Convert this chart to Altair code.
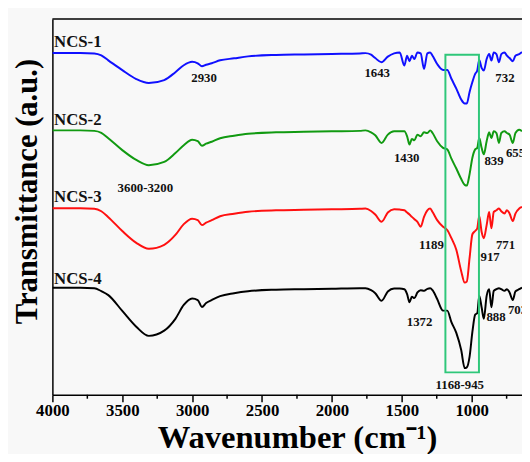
import altair as alt
import pandas as pd

SERIF = "Liberation Serif"

# wavenumber grid (cm-1)
wn = [4000, 3800, 3700, 3650, 3600, 3500, 3400, 3310, 3200, 3120, 3060, 3000, 2960, 2930,
      2900, 2860, 2800, 2700, 2600, 2400, 2200, 2000, 1800,
      1760, 1720, 1690, 1645, 1600, 1555, 1515, 1482, 1462, 1445,
      1428, 1410, 1388, 1365, 1341, 1317, 1297, 1280, 1247, 1205,
      1175, 1145, 1110, 1075, 1050, 1035, 1015, 995, 975, 960,
      946, 929, 913, 893, 875, 859, 842, 823, 805, 788,
      765, 748, 729, 706, 687, 660, 640]

# transmittance (a.u., stacked with offsets)
ncs1 = [346.5, 346.5, 346, 344, 339, 329, 320, 316, 319, 327, 334, 337.5, 336, 333,
        334.5, 336, 339, 341, 343, 344.5, 345, 345.5, 346,
        346.3, 344.7, 341.3, 337, 342.7, 346, 347, 333.7, 343.7, 338,
        343.7, 340.3, 347, 346, 330.3, 346, 347, 343.7, 335.3, 329.3,
        329.3, 320.3, 310.3, 299.3, 295.3, 295.3, 307, 317, 325.3, 328.7,
        339.3, 331.3, 328.7, 340.3, 345.3, 338.7, 347, 345.3, 337, 345.3,
        347, 343.7, 341.3, 338, 343.7, 345.3, 347.3]
ncs2 = [268, 268, 267.5, 265.5, 260, 248, 238, 232.7, 236, 245, 253, 258.5, 257, 252.5,
        254.5, 256.5, 260, 262.5, 264.5, 266, 266.5, 267, 267.5,
        268, 266, 263, 255.3, 263.7, 267, 267, 267, 262, 253.7,
        259.3, 258, 263.7, 262, 266, 265.3, 268, 265.3, 257, 250.3,
        248.7, 239.3, 229.3, 218.7, 212.7, 212, 223.7, 240.3, 248.7, 250.3,
        260.3, 250.3, 243.7, 257, 266, 260.3, 267, 265.3, 255.3, 265.3,
        267, 265.3, 263.7, 255.3, 265.3, 268.7, 267]
ncs3 = [189, 189, 188.5, 186, 180, 166, 154, 148, 152, 162, 173, 178.5, 177, 172,
        174.5, 177, 181, 183.5, 185.5, 187, 187.5, 188, 188.5,
        188.7, 186.3, 182.7, 175.3, 184.7, 188, 187.7, 187, 184.7, 182.7,
        180.3, 178, 175.3, 170.3, 180.3, 187, 188.7, 185.3, 177, 170.3,
        167, 158.7, 147, 125.3, 113.7, 114.7, 138.7, 162.7, 166, 168.7,
        181.3, 165.3, 158.7, 172, 185.3, 168.7, 185.3, 187, 188.7, 186,
        183.7, 187, 183.7, 176, 183.7, 188.7, 190.3]
ncs4 = [108.5, 108.5, 108, 105, 101, 85, 69, 59.7, 65, 77, 91, 97.5, 96, 89,
        93, 96, 100, 103, 105, 106.5, 107, 107.5, 108,
        108, 106, 103, 95.3, 104.7, 107.7, 107.7, 107, 102, 93.7,
        99.3, 98, 103.7, 106, 105.3, 107.3, 108, 106, 97, 85.3,
        85.3, 73.7, 62.7, 45.3, 27, 27.7, 38.7, 63.7, 81.3, 82.7,
        100.3, 88.7, 77, 100.3, 107, 88.7, 105.3, 107, 108, 107,
        105.3, 107, 103.7, 96, 104.7, 107, 108.7]

series_names = ["NCS-1", "NCS-2", "NCS-3", "NCS-4"]
series_colors = ["#1010ff", "#119a11", "#ff1010", "#000000"]

# sample labels
name_wn = [3988, 3988, 3988, 3988]
name_val = [357, 278, 200.3, 117.7]

# peak annotations (centered)
peak_text = ["2930", "1643", "732", "1430", "839", "3600-3200", "1189", "917", "771",
             "1372", "888", "1168-945"]
peak_wn = [2915, 1676, 762, 1465, 840, 3335, 1288, 868, 758, 1373, 826, 1085]
peak_val = [321, 326.3, 321, 240.3, 237, 209.7, 151.3, 139.7, 152, 73.7, 78.7, 10.3]

# peak annotations (left aligned, cut at the edge)
edge_text = ["655", "703"]
edge_wn = [755, 741]
edge_val = [245.3, 86]

# highlighted band
box_wn = [1188, 948]
box_val = [344.7, 22.7]

major_ticks = [4000, 3500, 3000, 2500, 2000, 1500, 1000]
minor_ticks = [3750, 3250, 2750, 2250, 1750, 1250, 750]

W, H = 476, 381

rows = []
for name, vals in zip(series_names, [ncs1, ncs2, ncs3, ncs4]):
    for w, v in zip(wn, vals):
        rows.append({"wn": w, "val": v, "series": name})
spec_df = pd.DataFrame(rows)

x_scale = alt.Scale(domain=[4000, 640], nice=False, zero=False)
y_scale = alt.Scale(domain=[0, 381], nice=False, zero=False)

x_axis = alt.Axis(values=major_ticks, format="d", title="Wavenumber (cm⁻¹)", grid=False,
                  labelFont=SERIF, labelFontSize=17, labelFontWeight="bold",
                  labelColor="black", labelFlush=False, labelOverlap=False,
                  labelPadding=1, tickSize=7, tickWidth=1.5, tickColor="black",
                  domainColor="black", domainWidth=1.5,
                  titleFont=SERIF, titleFontSize=33, titleFontWeight="bold",
                  titleColor="black", titleX=248, titleY=53,
                  titleBaseline="alphabetic", titleAlign="center")
y_axis = alt.Axis(title="Transmittance (a.u.)", labels=False, ticks=False, grid=False,
                  domainColor="black", domainWidth=1.5,
                  titleFont=SERIF, titleFontSize=31, titleFontWeight="bold",
                  titleColor="black", titleX=-25, titleY=174.5,
                  titleBaseline="middle", titleAlign="center")

X = alt.X("wn:Q", scale=x_scale, axis=x_axis)
Y = alt.Y("val:Q", scale=y_scale, axis=y_axis)

lines = alt.Chart(spec_df).mark_line(strokeWidth=2, clip=True, interpolate="monotone").encode(
    x=X, y=Y,
    color=alt.Color("series:N", scale=alt.Scale(domain=series_names, range=series_colors),
                    legend=None),
    detail="series:N",
)

box_df = pd.DataFrame({"wn": [box_wn[0]], "wn2": [box_wn[1]],
                       "val": [box_val[0]], "val2": [box_val[1]]})
box = alt.Chart(box_df).mark_rect(filled=False, stroke="#2fc77a", strokeWidth=2).encode(
    x=X, x2="wn2:Q", y=Y, y2="val2:Q")

minor_df = pd.DataFrame({"wn": minor_ticks})
minor = alt.Chart(minor_df).mark_rule(color="black", strokeWidth=1.5).encode(
    x=X, y=alt.value(H), y2=alt.value(H + 4))

top_df = pd.DataFrame({"k": [0]})
top = alt.Chart(top_df).mark_rule(color="black", strokeWidth=1.5).encode(
    x=alt.value(0), x2=alt.value(W), y=alt.value(0))

names_df = pd.DataFrame({"wn": name_wn, "val": name_val, "t": series_names})
names = alt.Chart(names_df).mark_text(font=SERIF, fontSize=17, fontWeight="bold",
                                      align="left", baseline="middle", color="#111111").encode(
    x=X, y=Y, text="t:N")

peaks_df = pd.DataFrame({"wn": peak_wn, "val": peak_val, "t": peak_text})
peaks = alt.Chart(peaks_df).mark_text(font=SERIF, fontSize=13, fontWeight="bold",
                                      align="center", baseline="middle", color="#111111").encode(
    x=X, y=Y, text="t:N")

edge_df = pd.DataFrame({"wn": edge_wn, "val": edge_val, "t": edge_text})
edges = alt.Chart(edge_df).mark_text(font=SERIF, fontSize=13, fontWeight="bold",
                                     align="left", baseline="middle", color="#111111").encode(
    x=X, y=Y, text="t:N")

chart = alt.layer(lines, box, minor, top, names, peaks, edges).properties(
    width=W, height=H,
    autosize=alt.AutoSizeParams(type="none"),
    padding={"left": 45, "top": 8, "right": 0, "bottom": 57},
    background="#f8f8f8",
).configure_view(stroke=None)

chart.save("out.html", embed_options={"renderer": "svg", "actions": False})
